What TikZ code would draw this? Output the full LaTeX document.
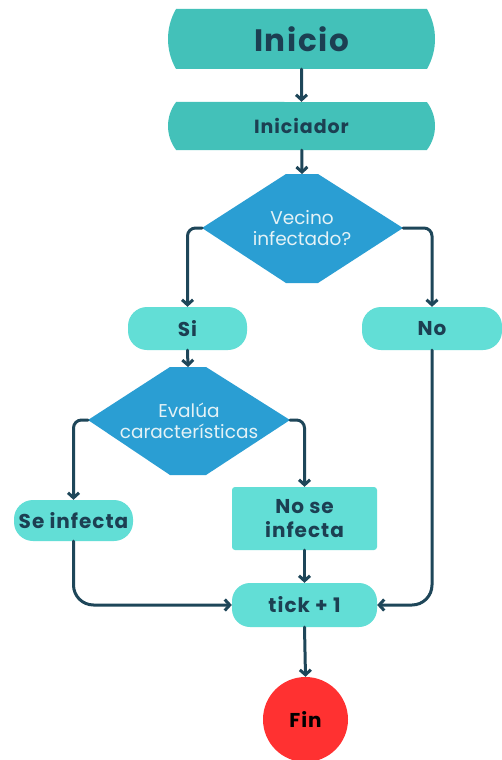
\documentclass[tikz,border=0pt]{standalone}
\usepackage{fontspec}
\setmainfont{Poppins}[BoldFeatures={LetterSpace=5}]
\usetikzlibrary{arrows.meta,shapes.misc,shapes.geometric}
\definecolor{tealA}{HTML}{43C1B9}
\definecolor{tealB}{HTML}{62DED6}
\definecolor{blueD}{HTML}{2A9ED3}
\definecolor{ink}{HTML}{1C3F52}
\definecolor{linec}{HTML}{1E4659}
\definecolor{redF}{HTML}{FF3131}
\definecolor{dtext}{HTML}{E4F2F6}
\begin{document}
\begin{tikzpicture}[x=1pt,y=-1pt,
  term/.style={rounded rectangle, fill=tealA, text=ink, inner sep=0pt},
  box/.style={fill=tealB, text=ink, font=\bfseries\fontsize{20}{24}\selectfont, inner sep=0pt, align=center},
  dtxt/.style={text=dtext, font=\fontsize{18.5}{21}\selectfont, align=center, inner sep=0pt},
  conn/.style={draw=linec, line width=3pt, rounded corners=8pt, line cap=round, line join=round, -{Straight Barb[length=5pt,width=11pt]}},
  bigturn/.style={rounded corners=20pt},
]
\useasboundingbox[fill=white] (0,0) rectangle (501,760);
% terminals
\node[term, minimum width=267pt, minimum height=60pt, rounded rectangle arc length=60, font=\bfseries\fontsize{31}{36}\selectfont] (inicio) at (301.5,39) {Inicio};
\node[term, minimum width=267pt, minimum height=48pt, rounded rectangle arc length=75, font=\bfseries\fontsize{19}{23}\selectfont] (inic) at (301.5,126) {Iniciador};
% decision 1
\fill[blueD] (202,228) -- (286,174) -- (318,174) -- (403,228) -- (318,283) -- (286,283) -- cycle;
\node[dtxt] (d1) at (302,228) {Vecino\\infectado?};
\coordinate (d1n) at (302,174);
\coordinate (d1w) at (202,228);
\coordinate (d1e) at (403,228);
% yes / no
\node[box, rounded corners=19pt, minimum width=119pt, minimum height=43pt] (si) at (187.5,328.5) {Si};
\node[box, rounded corners=19pt, minimum width=140pt, minimum height=43pt] (no) at (432,328.5) {No};
% decision 2
\fill[blueD] (88,420) -- (170,367) -- (206,367) -- (290,420) -- (206,475) -- (170,475) -- cycle;
\node[dtxt] (d2) at (189,421) {Evalúa\\características};
\coordinate (d2n) at (188,367);
\coordinate (d2w) at (88,420);
\coordinate (d2e) at (290,420);
% outcomes
\node[box, rounded corners=19pt, minimum width=119pt, minimum height=41pt] (se) at (73.5,520.5) {Se infecta};
\node[box, rounded corners=3pt, minimum width=145pt, minimum height=63pt] (nse) at (304.5,518.5) {No se\\infecta};
\node[box, rounded corners=18pt, minimum width=145pt, minimum height=44pt] (tick) at (304.5,605) {tick + 1};
\node[circle, fill=redF, minimum size=85pt, inner sep=0pt, text=black, font=\bfseries\fontsize{20}{24}\selectfont] (fin) at (305.5,719.5) {Fin};
% connectors
\draw[conn] (inicio) -- (inic);
\draw[conn] (inic) -- (d1n);
\draw[conn] (d1w) -| (si.north);
\draw[conn] (d1e) -| (no.north);
\draw[conn] (si.south) -- (d2n);
\draw[conn] (d2w) -| (se.north);
\draw[conn] (d2e) -| (nse.north);
\draw[conn, bigturn] (se.south) |- (tick.west);
\draw[conn] (nse.south) -- (tick.north);
\draw[conn, bigturn] (no.south) |- (tick.east);
\draw[conn] (tick.south) -- (fin.north);
\end{tikzpicture}
\end{document}
